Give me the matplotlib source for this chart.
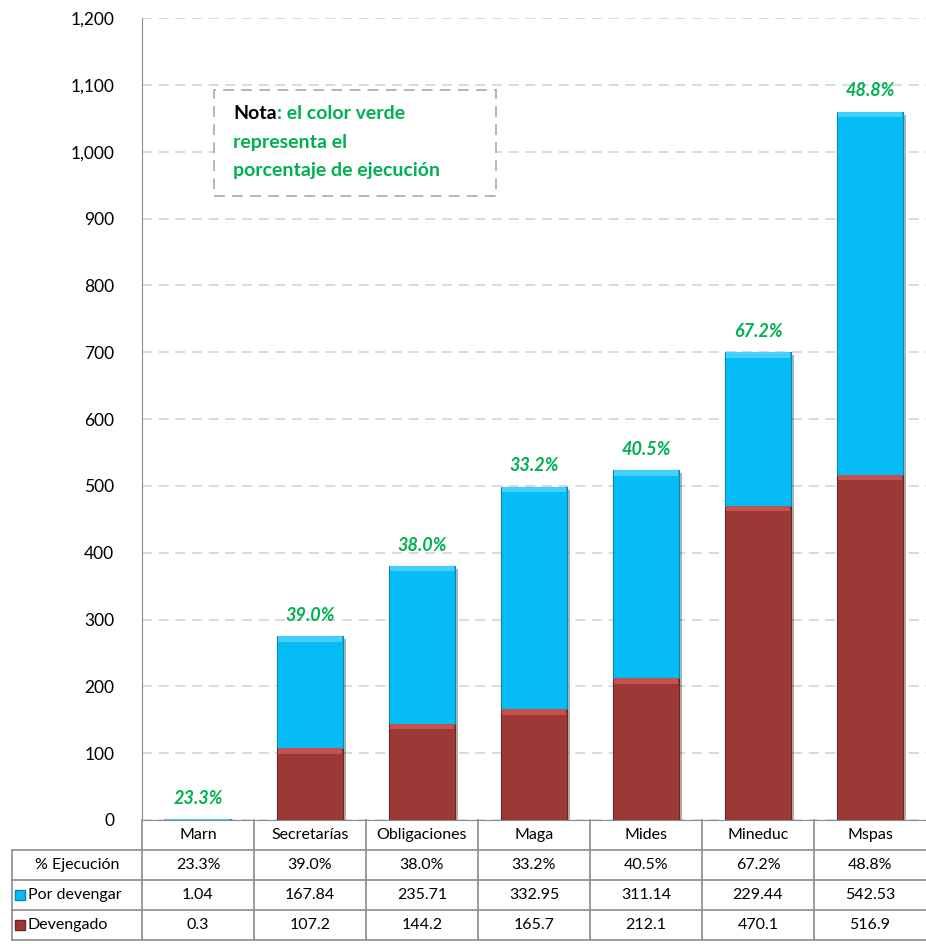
import matplotlib.pyplot as plt
import matplotlib.patheffects as pe
import numpy as np
from matplotlib.ticker import FuncFormatter

plt.rcParams['font.family'] = ['Lato', 'DejaVu Sans']

# datos
entidades = ['Marn', 'Secretarías', 'Obligaciones', 'Maga', 'Mides', 'Mineduc', 'Mspas']
devengado = [0.3, 107.2, 144.2, 165.7, 212.1, 470.1, 516.9]
por_devengar = [1.04, 167.84, 235.71, 332.95, 311.14, 229.44, 542.53]
ejecucion = [23.3, 39.0, 38.0, 33.2, 40.5, 67.2, 48.8]

c_dev = '#9c3936'
c_por = '#05bcf5'
verde = '#00b050'
gris = '#8c8c8c'

W, H = 926, 944
fig = plt.figure(figsize=(W / 100, H / 100), dpi=100)

ax = fig.add_axes([142 / W, 1 - 820 / H, (W - 142) / W, (820 - 18) / H])
x = np.arange(len(entidades))
ancho = 0.59
sombra = [pe.SimplePatchShadow(offset=(2, -2), alpha=0.35), pe.Normal()]

b1 = ax.bar(x, devengado, width=ancho, color=c_dev, edgecolor='#6e2523', linewidth=0.8, zorder=3)
b2 = ax.bar(x, por_devengar, width=ancho, bottom=devengado, color=c_por,
            edgecolor='#0a86b0', linewidth=0.8, zorder=3)
for b in list(b1) + list(b2):
    b.set_path_effects(sombra)

# brillo superior (efecto bisel)
dev = np.array(devengado)
por = np.array(por_devengar)
bisel = 8
m = dev > bisel
ax.bar(x[m], bisel, width=ancho * 0.97, bottom=dev[m] - bisel, color='#c4524e', linewidth=0, zorder=3.5)
ax.bar(x, bisel, width=ancho * 0.97, bottom=dev + por - bisel, color='#45d0fb', linewidth=0, zorder=3.5)

# etiquetas de porcentaje
for i in range(len(entidades)):
    tope = devengado[i] + por_devengar[i]
    ax.annotate(f'{ejecucion[i]:.1f}%', (x[i], tope), xytext=(0, 9), textcoords='offset points',
                ha='center', va='bottom', color=verde, fontsize=13,
                fontweight='bold', fontstyle='italic')

ax.set_xlim(-0.5, len(entidades) - 0.5)
ax.set_ylim(0, 1200)
ax.set_yticks(np.arange(0, 1201, 100))
ax.yaxis.set_major_formatter(FuncFormatter(lambda v, p: f'{int(v):,}'))
ax.tick_params(axis='y', length=0, labelsize=12.5, pad=20)
ax.set_xticks([])
ax.grid(axis='y', color='#d4d4d4', linestyle=(0, (6, 4)), linewidth=1.2, zorder=0)
for s in ['top', 'right']:
    ax.spines[s].set_visible(False)
ax.spines['left'].set_color(gris)
ax.spines['bottom'].set_color(gris)

# nota
rect = plt.Rectangle((-0.5 + 72 / 112, 934), 282 / 112, 159, facecolor='white',
                     edgecolor='#b0b0b0', linestyle=(0, (6, 4)), linewidth=1.3, zorder=4)
ax.add_patch(rect)
xn = -0.5 + 91 / 112
t1 = ax.text(xn, 1049, 'Nota', fontsize=14, fontweight='bold', color='black',
             va='baseline', ha='left', zorder=5)
ax.annotate(': el color verde', xy=(1, 0), xycoords=t1, xytext=(0, 0), textcoords='offset points',
            fontsize=14, fontweight='bold', color=verde, va='bottom', ha='left', zorder=5)
ax.text(xn, 1006, 'representa el', fontsize=14, fontweight='bold', color=verde,
        va='baseline', ha='left', zorder=5)
ax.text(xn, 963, 'porcentaje de ejecución', fontsize=14, fontweight='bold', color=verde,
        va='baseline', ha='left', zorder=5)

# tabla de datos
tax = fig.add_axes([12 / W, 4 / H, (W - 12) / W, 116 / H])
x0 = -0.5 - 130 / 112
tax.set_xlim(x0, len(entidades) - 0.5)
tax.set_ylim(4, 0.13)
tax.axis('off')

filas = ['% Ejecución', 'Por devengar', 'Devengado']
textos = [[f'{v:.1f}%' for v in ejecucion],
          [f'{v:.2f}' for v in por_devengar],
          [f'{v:g}' for v in devengado]]

for r in range(1, 5):
    tax.plot([x0, len(entidades) - 0.5], [r, r], color=gris, lw=1.2, clip_on=False)
tax.plot([x0, x0], [1, 4], color=gris, lw=1.2, clip_on=False)
for c in range(len(entidades)):
    tax.plot([c - 0.5, c - 0.5], [0, 4], color=gris, lw=1.2, clip_on=False)

for c, nombre in enumerate(entidades):
    tax.text(c, 0.5, nombre, ha='center', va='center', fontsize=11.5)
    for r in range(3):
        tax.text(c, r + 1.5, textos[r][c], ha='center', va='center', fontsize=11.5)

tax.text((x0 - 0.5) / 2, 1.5, filas[0], ha='center', va='center', fontsize=11.5)
tax.plot(x0 + 0.07, 2.5, marker='s', ms=7, color=c_por, mec='#0a86b0', clip_on=False)
tax.text(x0 + 0.14, 2.5, filas[1], ha='left', va='center', fontsize=11.5)
tax.plot(x0 + 0.07, 3.5, marker='s', ms=7, color=c_dev, mec='#6e2523', clip_on=False)
tax.text(x0 + 0.14, 3.5, filas[2], ha='left', va='center', fontsize=11.5)

fig.savefig('out.png', dpi=100)
